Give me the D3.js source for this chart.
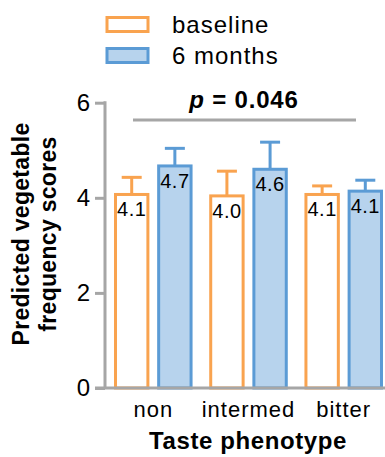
<!DOCTYPE html>
<html>
<head>
<meta charset="utf-8">
<script src="https://cdn.jsdelivr.net/npm/d3@7"></script>
<style>
  body { margin: 0; background: #fff; }
  text { font-family: Arial, "Liberation Sans", sans-serif; }
</style>
</head>
<body>
<div id="chart"></div>
<script>
"use strict";

const categories = ["non", "intermed", "bitter"];
const seriesNames = ["baseline", "6 months"];
const baselineValues = [4.07, 4.04, 4.07];
const baselineErrors = [4.43, 4.56, 4.25];
const monthValues = [4.67, 4.60, 4.14];
const monthErrors = [5.04, 5.17, 4.37];
const valueLabels = [["4.1", "4.7"], ["4.0", "4.6"], ["4.1", "4.1"]];
const yTicks = [0, 2, 4, 6];

const cont = { width: 385, height: 457 };
const colors = {
    stroke: ["#f9a34f", "#5b9bd5"],
    fill: ["#ffffff", "#b7d3ed"],
    axis: "#a6a6a6"
};

const svg = d3.select("#chart").append("svg")
    .attr("width", cont.width)
    .attr("height", cont.height);

const yScale = d3.scaleLinear().domain([0, 6]).range([388, 102.7]);
const x0 = d3.scaleBand().domain(categories).range([114, 383]).paddingInner(0.175).paddingOuter(0);
const x1 = d3.scaleBand().domain(seriesNames).range([0, x0.bandwidth()]).paddingInner(0.18).paddingOuter(0);

const rows = categories.map((c, i) => ({
    cat: c,
    bars: [
        { s: seriesNames[0], v: baselineValues[i], e: baselineErrors[i], lab: valueLabels[i][0], k: 0 },
        { s: seriesNames[1], v: monthValues[i], e: monthErrors[i], lab: valueLabels[i][1], k: 1 }
    ]
}));

// bars
const groups = svg.selectAll(".grp").data(rows).enter().append("g")
    .attr("transform", d => "translate(" + x0(d.cat) + ",0)");

const bar = groups.selectAll(".bar").data(d => d.bars).enter().append("g");

// error bars
bar.append("line")
    .attr("x1", d => x1(d.s) + x1.bandwidth() / 2)
    .attr("x2", d => x1(d.s) + x1.bandwidth() / 2)
    .attr("y1", d => yScale(d.v))
    .attr("y2", d => yScale(d.e))
    .attr("stroke", d => colors.stroke[d.k])
    .attr("stroke-width", 3);
bar.append("line")
    .attr("x1", d => x1(d.s) + x1.bandwidth() / 2 - 10)
    .attr("x2", d => x1(d.s) + x1.bandwidth() / 2 + 10)
    .attr("y1", d => yScale(d.e))
    .attr("y2", d => yScale(d.e))
    .attr("stroke", d => colors.stroke[d.k])
    .attr("stroke-width", 3);

bar.append("rect")
    .attr("x", d => x1(d.s) + 1.5)
    .attr("width", x1.bandwidth() - 3)
    .attr("y", d => yScale(d.v))
    .attr("height", d => yScale(0) - yScale(d.v))
    .attr("fill", d => colors.fill[d.k])
    .attr("stroke", d => colors.stroke[d.k])
    .attr("stroke-width", 3);

bar.append("text")
    .attr("x", d => x1(d.s) + x1.bandwidth() / 2)
    .attr("y", d => yScale(d.v) + 22)
    .attr("text-anchor", "middle")
    .attr("font-size", "20px")
    .attr("letter-spacing", "0.5px")
    .attr("fill", "#000")
    .text(d => d.lab);

// axes
const yAxis = d3.axisLeft(yScale).tickValues(yTicks).tickFormat(d3.format("d")).tickSize(10).tickPadding(5);
const yg = svg.append("g").attr("transform", "translate(105,0)").call(yAxis);
yg.select(".domain").remove();
yg.selectAll(".tick line").attr("stroke", colors.axis).attr("stroke-width", 3);
yg.selectAll(".tick text").attr("font-size", "24px").attr("fill", "#000")
    .attr("font-family", "Arial, 'Liberation Sans', sans-serif");
svg.append("line")
    .attr("x1", 105).attr("x2", 105)
    .attr("y1", yScale(6) - 1.5).attr("y2", yScale(0))
    .attr("stroke", colors.axis).attr("stroke-width", 3);
svg.append("line")
    .attr("x1", 95).attr("x2", 385)
    .attr("y1", yScale(0)).attr("y2", yScale(0))
    .attr("stroke", colors.axis).attr("stroke-width", 3);

// category labels
svg.selectAll(".cat").data(categories).enter().append("text")
    .attr("x", d => x0(d) + x0.bandwidth() / 2)
    .attr("y", 417)
    .attr("text-anchor", "middle")
    .attr("font-size", "22px")
    .attr("letter-spacing", "1px")
    .text(d => d);

svg.append("text")
    .attr("x", 248)
    .attr("y", 449)
    .attr("text-anchor", "middle")
    .attr("font-size", "24px")
    .attr("letter-spacing", "0.6px")
    .attr("font-weight", "bold")
    .text("Taste phenotype");

const yl = svg.append("text")
    .attr("transform", "translate(0,234) rotate(-90)")
    .attr("text-anchor", "middle")
    .attr("font-size", "23px")
    .attr("letter-spacing", "0.3px")
    .attr("font-weight", "bold");
yl.append("tspan").attr("x", 0).attr("y", 28.5).text("Predicted vegetable");
yl.append("tspan").attr("x", 0).attr("y", 56).text("frequency scores");

// significance bracket
svg.append("line")
    .attr("x1", 133).attr("x2", 356)
    .attr("y1", 120).attr("y2", 120)
    .attr("stroke", colors.axis).attr("stroke-width", 3);
const pt = svg.append("text")
    .attr("x", 244).attr("y", 108)
    .attr("text-anchor", "middle")
    .attr("font-size", "24px")
    .attr("letter-spacing", "0.8px")
    .attr("font-weight", "bold");
pt.append("tspan").attr("font-style", "italic").text("p");
pt.append("tspan").text(" = 0.046");

// legend
const leg = svg.selectAll(".leg").data(seriesNames).enter().append("g")
    .attr("transform", (d, i) => "translate(107," + (17.5 + i * 31) + ")");
leg.append("rect")
    .attr("width", 41).attr("height", 14)
    .attr("fill", (d, i) => colors.fill[i])
    .attr("stroke", (d, i) => colors.stroke[i])
    .attr("stroke-width", 3);
leg.append("text")
    .attr("x", 65).attr("y", 15.5)
    .attr("font-size", "24px")
    .attr("letter-spacing", "1px")
    .text(d => d);
</script>
</body>
</html>
